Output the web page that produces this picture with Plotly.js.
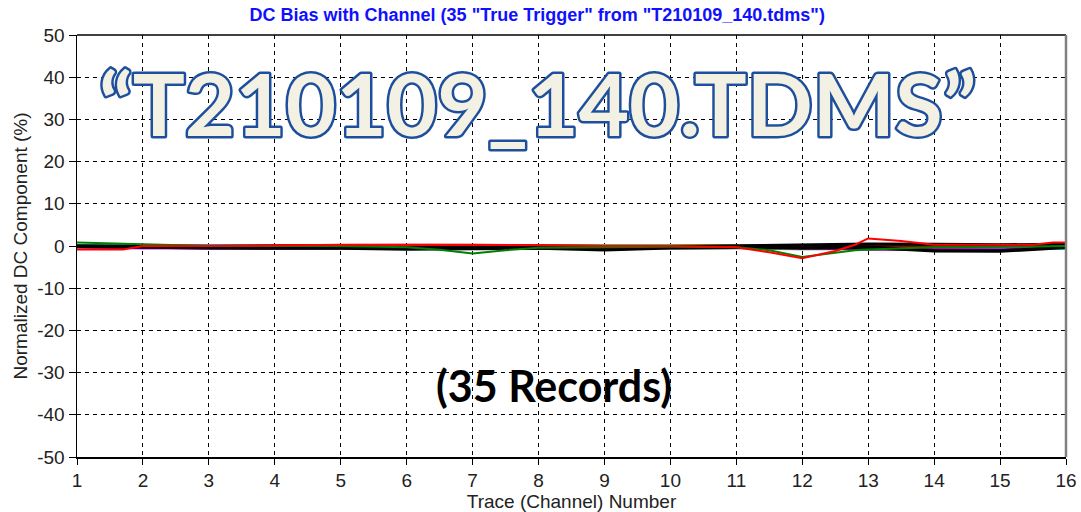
<!DOCTYPE html>
<html>
<head>
<meta charset="utf-8">
<script src="https://cdn.plot.ly/plotly-3.0.1.min.js"></script>
<style>
html,body{margin:0;padding:0;background:#fff;}
#chart{width:1081px;height:512px;}
g.annotation[data-index="0"] text{stroke:#1d4f9c;stroke-width:5px;paint-order:stroke;stroke-linejoin:round;}
</style>
</head>
<body>
<div id="chart"></div>
<script>
// Data
const channels = [1,2,3,4,5,6,7,8,9,10,11,12,13,14,15,16];
const fineX = [1,1.3,1.7,2,2.5,3,4,5,6,6.5,7,7.5,8,9,10,11,11.5,12,12.5,12.8,13,13.5,14,15,15.5,15.8,16];

const redVals   = [-0.8,-0.8,-0.8,0,0,0,0.1,0.3,0.3,0.3,0.3,0.3,0.2,0,0,-0.3,-1.5,-2.9,-1.2,0.3,1.8,1.2,0.3,0.3,0.3,0.8,0.8];
const greenVals = [0.8,0.7,0.4,0.4,0.2,0,0,0,-0.3,-0.9,-1.8,-1.0,-0.4,-0.3,-0.2,-0.3,-1.0,-2.6,-1.6,-1.0,-0.8,-0.5,-0.3,-0.2,-0.1,0,0];

const tealVals    = [0.2,0.2,0.1,0.1,0.1,0.1,0,-0.1,-0.3,-0.3,-0.2,0,0.1,0.1,0.1,0];
const cyanVals    = [0.1,0.1,0.1,0.1,0.1,0.1,0.1,0.1,0.2,0.1,-0.3,-0.4,-0.3,-0.5,-0.6,-0.7];
const magentaVals = [-0.3,-0.6,-0.6,-0.3,-0.2,-0.2,-0.3,-0.7,-0.3,-0.1,-0.1,-0.3,-0.6,-0.5,-0.4,-0.2];
const purpleVals  = [-0.2,-0.3,-0.6,-0.6,-0.6,-0.6,-0.3,-0.3,-0.3,-0.2,-0.1,-0.5,-0.8,-0.8,-0.9,-0.3];
const blackVals   = [-0.1,-0.3,-0.5,-0.5,-0.5,-0.7,-0.6,-0.5,-0.9,-0.4,-0.3,-0.5,-0.3,-1.1,-1.2,-0.3];
const black2Vals  = [0,0,-0.1,-0.3,-0.2,-0.4,-0.3,-0.1,-0.4,-0.2,0,0.3,0.5,0.4,0.3,0.4];
const grayVals    = [-0.3,-0.5,-0.2,-0.6,-0.5,-0.5,-0.5,-0.3,-0.4,-0.7,-0.6,-0.8,-0.7,-1.0,-1.0,-0.6];
const oliveVals   = [0,0,0,0.1,0.2,0.2,0.2,0.3,0.3,0.3,0.3,0.3,0.3,0.3,0.3,0.3];
const yellowVals  = [0,0,0,0,0,0,0,0.1,0,0,-0.1,-0.2,-0.3,-0.4,-0.5,-0.1];
const darkredVals = [0,0,0,0.2,0.3,0.3,0.3,0.1,0,-0.1,-0.5,-0.3,0,0,0,0];
const navyVals    = [0.2,0.1,0.1,0.1,0,0,0,0,0,0,0,0,0.4,0.3,0.2,0.1];
const blueVals    = [0,0,0,0,0,0,0,0,0,0,0,-0.1,-0.2,-0.2,-0.1,0];

const yTicks = [-50,-40,-30,-20,-10,0,10,20,30,40,50];
const yTickText = ['-50','-40','-30','-20','-10','0','10','20','30','40','50'];

const series = [
  {y: grayVals, c:'#a0a0a0', w:2},
  {y: yellowVals, c:'#d8d800', w:2},
  {y: oliveVals, c:'#8c8c00', w:2},
  {y: navyVals, c:'#000080', w:2},
  {y: blueVals, c:'#0000cc', w:2},
  {y: tealVals, c:'#008080', w:2},
  {y: cyanVals, c:'#00dede', w:2},
  {y: darkredVals, c:'#990000', w:2},
  {y: magentaVals, c:'#ff00ff', w:2},
  {y: purpleVals, c:'#990099', w:2.5},
  {y: black2Vals, c:'#000000', w:3},
  {y: blackVals, c:'#000000', w:3.5}
];

const traces = series.map(s => ({
  x: channels, y: s.y, type:'scatter', mode:'lines',
  line:{color:s.c, width:s.w}, hoverinfo:'skip'
}));
traces.push({x: fineX, y: greenVals, type:'scatter', mode:'lines', line:{color:'#008000', width:2}, hoverinfo:'skip'});
traces.push({x: fineX, y: redVals, type:'scatter', mode:'lines', line:{color:'#ff0000', width:2}, hoverinfo:'skip'});

const axisFont = {family:'Arial, Liberation Sans, sans-serif', size:19, color:'#222'};
const tickFont = {family:'Arial, Liberation Sans, sans-serif', size:19, color:'#222'};

const layout = {
  width:1081, height:512,
  margin:{l:77, r:15, t:35, b:55},
  paper_bgcolor:'#fff', plot_bgcolor:'#fff',
  showlegend:false,
  title:{text:'DC Bias with Channel (35 "True Trigger" from "T210109_140.tdms")',
    font:{family:'Arial, Liberation Sans, sans-serif', size:18, color:'#1010ff', weight:'bold'},
    x:0.497, xanchor:'center', y:0.983, yanchor:'top'},
  xaxis:{range:[1,16], tickvals:channels, ticktext:channels.map(String),
    showgrid:true, gridcolor:'#000', griddash:'4px,4px', gridwidth:1,
    showline:true, linecolor:'#000', linewidth:1.5, mirror:false,
    ticks:'outside', ticklen:6, tickcolor:'#000', tickfont:tickFont,
    zeroline:false,
    title:{text:'Trace (Channel) Number', font:axisFont, standoff:4}},
  yaxis:{range:[-50,50], tickvals:yTicks, ticktext:yTickText, showgrid:true, gridcolor:'#000', griddash:'4px,4px', gridwidth:1,
    showline:true, linecolor:'#000', linewidth:1.5,
    ticks:'outside', ticklen:7, tickcolor:'#000', tickfont:tickFont,
    zeroline:false,
    title:{text:'Normalized DC Component (%)', font:axisFont, standoff:4}},
  shapes:[
    {type:'line', xref:'paper', yref:'paper', x0:0, x1:1, y0:1, y1:1, line:{color:'#000', width:1.5}},
    {type:'line', xref:'paper', yref:'paper', x0:1, x1:1, y0:0, y1:1, line:{color:'#808080', width:2.5}}
  ],
  annotations:[
    {text:'\u201cT210109_140.TDMS\u201d', xref:'paper', yref:'paper', x:0.466, y:0.84, xanchor:'center', yanchor:'middle',
     showarrow:false, font:{family:'Lato, Open Sans, sans-serif', size:87, color:'#f3f0e4', weight:'bold'}},
    {text:'(35 Records)', xref:'paper', yref:'paper', x:0.482, y:0.17, xanchor:'center', yanchor:'middle',
     showarrow:false, font:{family:'Lato, Open Sans, sans-serif', size:43, color:'#000', weight:'bold'}}
  ]
};

Plotly.newPlot('chart', traces, layout, {staticPlot:true, displayModeBar:false});
</script>
</body>
</html>
